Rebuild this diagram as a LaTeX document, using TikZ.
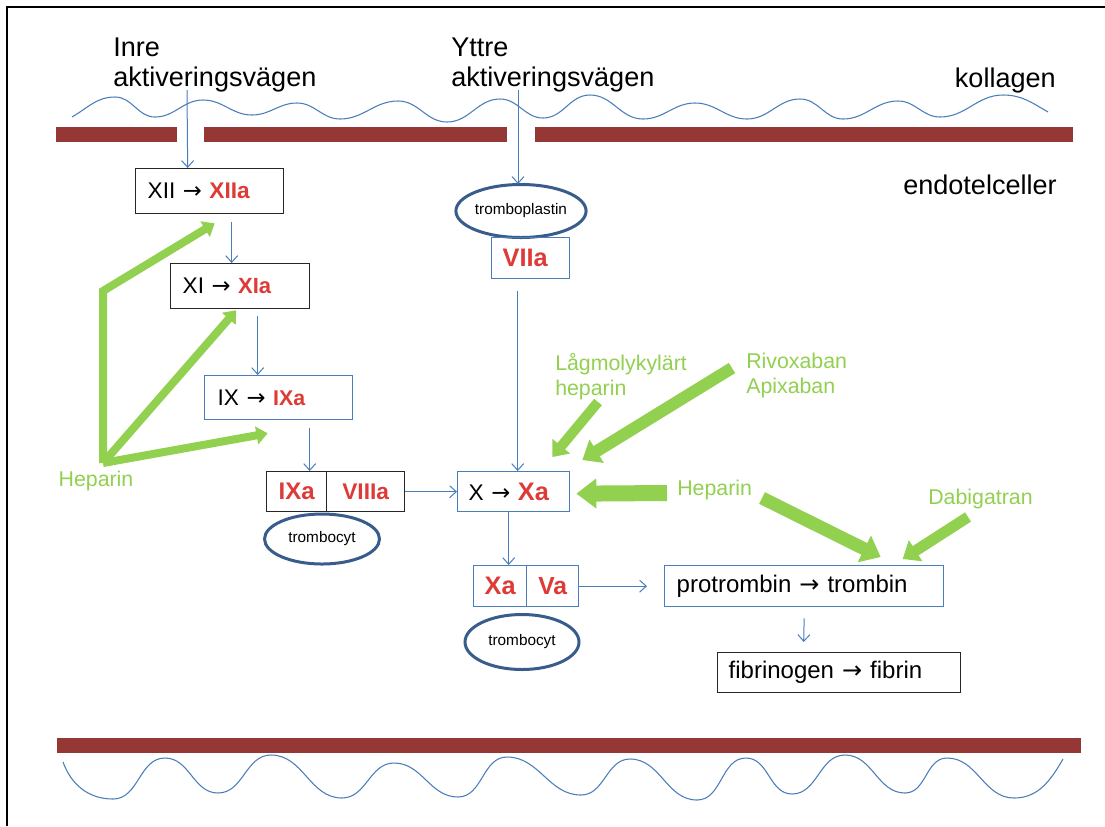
\documentclass[tikz,border=0pt]{standalone}
\usepackage{fontspec}
\setmainfont{Liberation Sans}
\newfontfamily\arrfont{DejaVu Sans}
\usetikzlibrary{arrows.meta,calc,shapes.geometric}
\definecolor{grn}{HTML}{92D050}
\definecolor{barred}{HTML}{953735}
\definecolor{lblue}{HTML}{4A7EBB}
\definecolor{eblue}{HTML}{385D8A}
\definecolor{wared}{HTML}{DE3A36}
\newcommand\wart[2]{{\fontsize{#1}{#1}\selectfont\bfseries\color{wared}#2}}
\newcommand\rarr{{\arrfont →}}
\begin{document}
\begin{tikzpicture}[x=0.75pt,y=-0.75pt,
  lab/.style={inner sep=0pt, font=\fontsize{20.3}{22.5}\selectfont},
  glab/.style={inner sep=0pt, text=grn, font=\fontsize{16}{18.75}\selectfont},
  boxk/.style={draw=black!85, line width=1pt, rectangle, inner xsep=9pt, inner ysep=0pt, anchor=north west, align=left, font=\fontsize{17}{20}\selectfont},
  boxb/.style={boxk, draw=lblue},
  cellk/.style={draw=black!85, line width=1pt, rectangle, inner sep=0pt, anchor=north west},
  cellb/.style={cellk, draw=lblue},
  ell/.style={ellipse, draw=eblue, line width=2.25pt, inner sep=0pt, font=\fontsize{11.5}{13}\selectfont},
  conn/.style={draw=lblue, line width=0.75pt, -{Straight Barb[length=5pt,width=9pt]}},
  garrow/.style={draw=grn, line width=#1, -{Triangle[length=0pt 1.4, width=0pt 2.2]}},
  wavy/.style={draw=lblue, line width=0.8pt},
]
\useasboundingbox (0,0) rectangle (1105,826);
\fill[white] (0,0) rectangle (1105,826);
% frame
\draw[line width=1.5pt] (7,826) -- (7,7) -- (1105,7);
% membranes
\fill[barred] (56,127) rectangle (177,142);
\fill[barred] (204,127) rectangle (507,142);
\fill[barred] (535,127) rectangle (1073,142);
\fill[barred] (57,738) rectangle (1081,753);
% top wave
\draw[wavy] (72,117) to[out=30,in=180] (115,97) to[out=0,in=180] (155,117)
  to[out=0,in=180] (203,100) to[out=0,in=180] (252,115) to[out=0,in=180] (297,103)
  to[out=0,in=180] (340,119) to[out=0,in=180] (398,101) to[out=0,in=180] (447,122)
  to[out=0,in=180] (500,99) to[out=0,in=180] (543,118) to[out=0,in=180] (590,95)
  to[out=0,in=180] (643,119) to[out=0,in=180] (695,103) to[out=0,in=180] (747,119)
  to[out=0,in=180] (800,99) to[out=0,in=180] (843,119) to[out=0,in=180] (898,101)
  to[out=0,in=180] (940,117) to[out=0,in=180] (1003,95) to[out=0,in=150] (1048,112);
% bottom wave
\draw[wavy] (63,762) to[out=-70,in=180] (113,799) to[out=0,in=180] (165,758)
  to[out=0,in=180] (218,793) to[out=0,in=180] (271,755) to[out=0,in=180] (342,798)
  to[out=0,in=180] (394,763) to[out=0,in=180] (458,797) to[out=0,in=180] (507,757)
  to[out=0,in=180] (581,795) to[out=0,in=180] (630,759) to[out=0,in=180] (697,800)
  to[out=0,in=180] (746,758) to[out=0,in=180] (792,794) to[out=0,in=180] (845,755)
  to[out=0,in=180] (905,793) to[out=0,in=180] (947,758) to[out=0,in=180] (1014,798)
  to[out=0,in=-120] (1063,759);
% labels
\node[lab, align=left, anchor=north west] (inre) at (113,38) {Inre\\aktiveringsvägen};
\node[lab, align=left, anchor=north west] (yttre) at (451,38) {Yttre\\aktiveringsvägen};
\node[lab, anchor=east] (koll) at (1056,80) {kollagen};
\node[lab, anchor=east] (endo) at (1057,185) {endotelceller};
% boxes
\node[boxk, text width=93pt, minimum height=33.75pt] (XII) at (135,168) {XII \rarr\ \wart{17}{XIIa}};
\node[boxk, text width=86.25pt, minimum height=33.75pt] (XI) at (170,263) {XI \rarr\ \wart{16.5}{XIa}};
\node[boxb, text width=91.5pt, inner xsep=9.75pt, minimum height=33pt] (IX) at (204,375) {IX \rarr\ \wart{16}{IXa}};
\node[cellk, minimum width=45pt, minimum height=30pt] (IXa) at (266,471) {\wart{18}{IXa}};
\node[cellk, minimum width=58.5pt, minimum height=30pt] (VIIIa) at (326,471) {\wart{17}{VIIIa}};
\node[ell, minimum width=86.25pt, minimum height=37.5pt] (tc1) at (322,539) {trombocyt};
\node[ell, minimum width=86.25pt, minimum height=39.75pt] (trpl) at (521,211) {tromboplastin};
\node[boxb, text width=42pt, inner xsep=8.25pt, minimum height=30.75pt] (VIIa) at (491,237) {\wart{19}{VIIa}};
\node[boxb, text width=67.5pt, inner xsep=8.25pt, minimum height=30pt] (X) at (457,471) {X \rarr\ \wart{19}{Xa}};
\node[cellb, minimum width=39.75pt, minimum height=30.75pt] (Xa) at (473,565) {\wart{19}{Xa}};
\node[cellb, minimum width=39pt, minimum height=30.75pt] (Va) at (526,565) {\wart{18.5}{Va}};
\node[ell, minimum width=85.5pt, minimum height=41.25pt] (tc2) at (522,642) {trombocyt};
\node[boxb, text width=191.25pt, minimum height=30.75pt, font=\fontsize{18}{21}\selectfont] (protr) at (664,565) {protrombin \rarr\ trombin};
\node[boxk, text width=165.75pt, inner xsep=8.25pt, minimum height=30pt, font=\fontsize{18}{21}\selectfont] (fibr) at (717,652) {fibrinogen \rarr\ fibrin};
% green labels
\node[glab, anchor=center] (hepL) at (96,481) {Heparin};
\node[glab, align=left, anchor=north west] (lagmol) at (555,353) {Lågmolykylärt\\heparin};
\node[glab, align=left, anchor=north west] (rivox) at (746,353) {Rivoxaban\\Apixaban};
\node[glab, anchor=west] (hepR) at (677,490) {Heparin};
\node[glab, anchor=west] (dabig) at (928,499) {Dabigatran};
% coordinates for free ends
\coordinate (inreA) at (187,90);
\coordinate (yttA) at (518,90);
\coordinate (hv) at (103,463);
\coordinate (hvtop) at (103,291);
\coordinate (lagA) at (598,402);
\coordinate (rivA) at (732,368);
\coordinate (hepRA) at (667,493);
\coordinate (hepRB) at (762,498);
\coordinate (dabA) at (968,517);
% blue connectors
\draw[conn] (inreA) -- ($(XII.north)+(-22,0)$);
\draw[conn] (yttA) -- ($(trpl.north)+(-3,1)$);
\draw[conn] ($(XII.south)+(22,8)$) -- ($(XI.north)+(-8.5,0)$);
\draw[conn] ($(XI.south)+(17.5,7)$) -- ($(IX.north)+(-21,0)$);
\draw[conn] ($(IX.south)+(31,8)$) -- ($(IXa.north)+(13,0)$);
\draw[conn] (VIIIa.east) -- (X.west);
\draw[conn] ($(VIIa.south)+(-13,12)$) -- ($(X.north)+(4,0)$);
\draw[conn] ($(X.south)+(-5,0)$) -- ($(Xa.north)+(8.5,0)$);
\draw[conn] (Va.east) -- ($(protr.west)+(-17,0)$);
\draw[conn] ($(protr.south)+(0,11)$) -- ($(fibr.north)+(-35.5,-10)$);
% green arrows
\draw[garrow=6pt, line join=miter] (hv) -- (hvtop) -- ($(XII.south)+(5,9)$);
\draw[garrow=6pt] (hv) -- ($(XI.south)+(-4,1)$);
\draw[garrow=6pt] (hv) -- ($(IX.south)+(-11,13)$);
\draw[garrow=7.5pt] (lagA) -- ($(X.north east)+(-18,-14)$);
\draw[garrow=9pt] (rivA) -- ($(X.north east)+(12,-11)$);
\draw[garrow=12pt, -{Triangle[length=0pt 1.25, width=0pt 1.8]}] (hepRA) -- ($(X.east)+(6,2)$);
\draw[garrow=9.75pt] (hepRB) -- ($(protr.north)+(76.5,-8)$);
\draw[garrow=8.25pt] (dabA) -- ($(protr.north)+(98.5,-6)$);
\end{tikzpicture}
\end{document}
